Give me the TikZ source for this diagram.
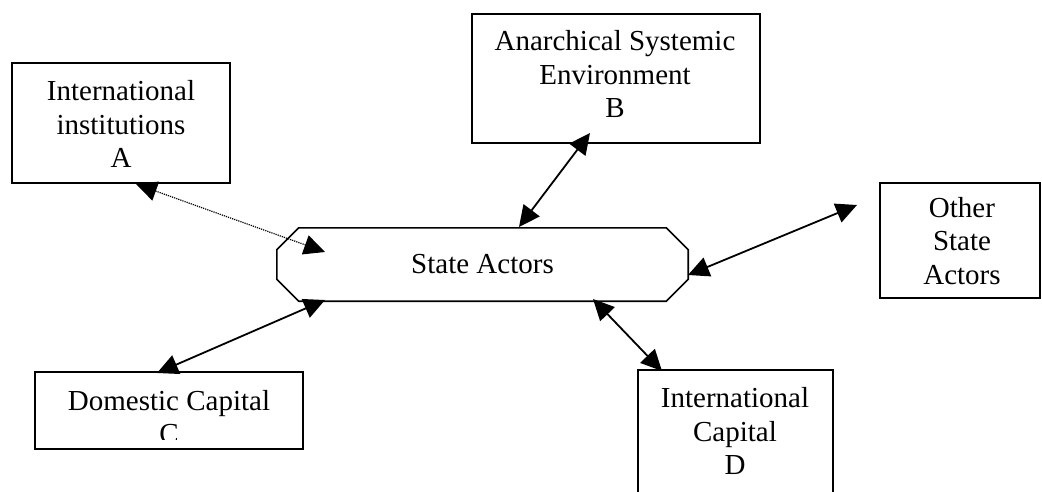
\documentclass[tikz,border=0pt]{standalone}
\usepackage{fontspec}
\setmainfont{Liberation Serif}
\usetikzlibrary{arrows.meta}
\begin{document}
\begin{tikzpicture}[x=1pt,y=-1pt,
  box/.style={draw, line width=1.6pt, fill=white, inner sep=0pt},
  txt/.style={align=center, inner sep=0pt, font=\fontsize{29}{33.5}\selectfont},
  link/.style={line width=1.8pt, {Triangle[length=21pt,width=20pt]}-{Triangle[length=21pt,width=20pt]}},
  dlink/.style={line width=1.2pt, densely dotted, {Triangle[length=21pt,width=20pt]}-{Triangle[length=21pt,width=20pt]}}]
\useasboundingbox (0,0) rectangle (1042,492);
\clip (0,0) rectangle (1042,492);
% boxes
\node[box, minimum width=218pt, minimum height=120pt] (A) at (121,123) {};
\node[txt] (At) at (121,124) {International\\institutions\\A};
\node[box, minimum width=288pt, minimum height=129pt] (B) at (616,78.5) {};
\node[txt] (Bt) at (615,74) {Anarchical Systemic\\Environment\\B};
\node[box, minimum width=160pt, minimum height=115pt] (O) at (960,240.5) {};
\node[txt] (Ot) at (962,241) {Other\\State\\Actors};
\node[box, minimum width=268pt, minimum height=77pt] (C) at (169,410.5) {};
\begin{scope}
\clip (30,372) rectangle (310,439);
\node[txt] (Ct) at (169,417) {Domestic Capital\\C};
\end{scope}
\node[box, minimum width=195pt, minimum height=150pt] (D) at (735.5,445) {};
\node[txt] (Dt) at (735,431) {International\\Capital\\D};
% state actors octagon
\node[txt, minimum width=411pt, minimum height=73pt] (SA) at (482.5,264.5) {State Actors};
\draw[line width=1.6pt] ([xshift=22pt]SA.north west) -- ([xshift=-22pt]SA.north east)
  -- ([yshift=-22pt]SA.north east) -- ([yshift=22pt]SA.south east)
  -- ([xshift=-22pt]SA.south east) -- ([xshift=22pt]SA.south west)
  -- ([yshift=22pt]SA.south west) -- ([yshift=-22pt]SA.north west) -- cycle;
% connector ends
\coordinate (sA) at (325,252); \coordinate (tA) at (136,184);
\coordinate (sB) at (519,227); \coordinate (tB) at (590,133);
\coordinate (sO) at (688,275); \coordinate (tO) at (857,205);
\coordinate (sC) at (325,300); \coordinate (tC) at (157,373);
\coordinate (sD) at (593,299); \coordinate (tD) at (662,371);
% connectors
\draw[dlink] (tA) -- (sA);
\draw[link] (sB) -- (tB);
\draw[link] (sO) -- (tO);
\draw[link] (sC) -- (tC);
\draw[link] (sD) -- (tD);
\end{tikzpicture}
\end{document}
